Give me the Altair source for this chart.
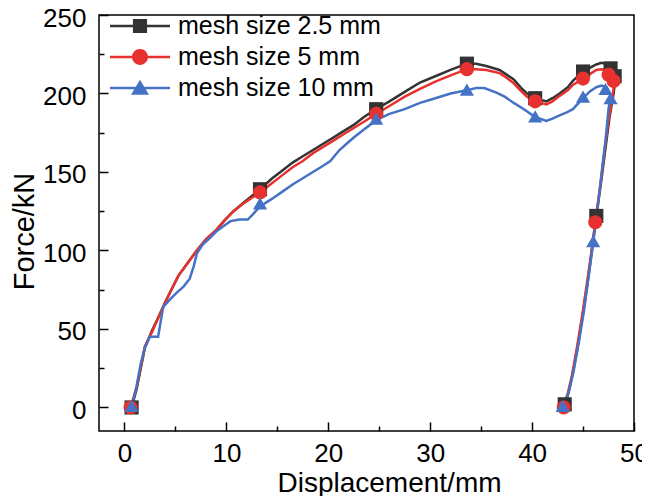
import altair as alt
import pandas as pd

series_names = ["mesh size 2.5 mm", "mesh size 5 mm", "mesh size 10 mm"]
colors = ["#333333", "#e8312f", "#4472c4"]
marker_shapes = ["square", "circle", "triangle-up"]

# mesh size 2.5 mm
x_25 = [0.7, 1.2, 1.6, 2.0, 2.7, 3.3, 4.0, 4.6, 5.3, 6.2, 7.1, 8.0, 9.0, 9.8, 10.7, 11.8, 13.3,
        14.5, 15.5, 16.5, 17.5, 18.5, 19.5, 20.5, 21.5, 22.5, 23.5, 24.7, 26.0, 27.5, 29.0, 30.5,
        32.0, 33.6, 34.5, 35.5, 36.8, 37.5, 38.2, 39.0, 39.5, 40.3, 41.4, 42.0, 42.7, 43.5, 44.0,
        45.0, 45.7, 46.3, 46.8, 47.2, 47.7, 48.2,
        48.0, 47.6, 47.2, 46.8, 46.3, 45.9, 45.5, 45.0, 44.5, 44.0, 43.6, 43.2]
y_25 = [0, 12, 25, 38, 49, 57, 67, 75, 84, 92, 100, 107, 113, 119, 125, 131, 139,
        146, 151, 156, 160, 164, 168, 172, 176, 180, 185, 190, 195, 201, 207, 211,
        215, 219, 219, 217.5, 215, 212, 209, 203, 200, 197, 195, 197, 200, 204, 208,
        214, 216.5, 218.5, 219.5, 219, 216, 211,
        200, 185, 165, 145, 122, 102, 82, 60, 40, 22, 10, 1]
mx_25 = [0.7, 13.3, 24.7, 33.6, 40.3, 45.0, 47.7, 48.1, 46.3, 43.2]
my_25 = [0, 139, 190, 219, 197, 214, 216, 211, 122, 2]

# mesh size 5 mm
x_5 = [0.6, 1.2, 1.6, 2.0, 2.7, 3.3, 4.0, 4.6, 5.3, 6.2, 7.1, 8.0, 9.0, 9.8, 10.7, 11.8, 13.3,
       14.5, 15.5, 16.5, 17.5, 18.5, 19.5, 20.5, 21.5, 22.5, 23.5, 24.7, 26.0, 27.5, 29.0, 30.5,
       32.0, 33.6, 34.5, 35.5, 36.8, 37.5, 38.2, 39.0, 39.5, 40.3, 41.4, 42.0, 42.7, 43.5, 44.0,
       45.0, 45.7, 46.3, 46.8, 47.2, 47.7, 48.1,
       47.9, 47.5, 47.1, 46.7, 46.2, 45.8, 45.4, 44.9, 44.4, 43.9, 43.5, 43.1]
y_5 = [0, 13, 26, 39, 48, 57, 67, 75, 84, 92, 100, 107, 113, 119, 125, 130.5, 137,
       143, 148, 153, 157, 162, 166, 170, 174, 178, 182, 187, 192, 198, 203, 207.5,
       211.5, 215.5, 215.5, 215, 213, 210, 206.5, 201, 198, 195, 193, 195, 198.5, 202, 205.5,
       209.5, 212.5, 215, 215.5, 215, 213, 209,
       198, 183, 163, 142, 118, 98, 80, 58, 38, 20, 9, 0]
mx_5 = [0.6, 13.3, 24.7, 33.6, 40.3, 45.0, 47.5, 48.0, 46.2, 43.1]
my_5 = [0, 137, 187, 215.5, 195, 209.5, 212, 208, 118, 0]

# mesh size 10 mm
x_10 = [0.7, 1.2, 1.6, 2.0, 2.5, 3.3, 3.8, 4.5, 5.1, 5.8, 6.4, 6.8, 7.1, 7.7, 8.4, 9.0, 9.7,
        10.4, 11.3, 12.1, 12.6, 13.3, 14.5, 15.5, 16.5, 17.5, 18.5, 19.5, 20.2, 21.1, 21.8, 22.5,
        23.5, 24.7, 26.0, 27.5, 29.0, 30.5, 32.0, 33.6, 34.5, 35.3, 36.5, 37.3, 38.2, 39.2, 40.3,
        41.4, 42.0, 42.7, 43.4, 44.0, 45.0, 45.7, 46.3, 46.8, 47.3, 47.7,
        47.5, 47.2, 46.8, 46.4, 46.0, 45.6, 45.1, 44.6, 44.1, 43.6, 43.0]
y_10 = [0, 14, 28, 38, 45, 45, 64, 69, 73, 77, 82, 90, 98, 104, 108, 112, 115.5,
        118.7, 119.7, 119.7, 123, 128, 133, 137.5, 142, 146, 150, 154, 157, 164, 168, 172,
        177, 183, 187, 190, 194, 197, 200, 202, 203.5, 203.5, 200.5, 198, 194, 190, 185,
        182.5, 184, 186, 188, 190, 197, 201.5, 204, 205, 204, 199,
        190, 170, 148, 125, 105, 86, 62, 42, 24, 10, 0]
mx_10 = [0.7, 13.3, 24.7, 33.6, 40.3, 45.0, 47.2, 47.7, 46.0, 43.0]
my_10 = [1, 130, 184, 202.5, 185.5, 198, 203, 197, 106, 1]

x_major = [0, 10, 20, 30, 40, 50]
x_minor = [5, 15, 25, 35, 45]
y_major = [0, 50, 100, 150, 200, 250]
y_minor = [25, 75, 125, 175, 225]

# legend symbols: line with marker on it (custom paths)
legend_paths = [
    "M-2,-0.09H2V0.09H-2Z M-0.47,-0.47H0.47V0.47H-0.47Z",
    "M-2,-0.09H2V0.09H-2Z M-0.53,0A0.53,0.53 0 1,1 0.53,0A0.53,0.53 0 1,1 -0.53,0Z",
    "M-2,-0.09H2V0.09H-2Z M0,-0.55L0.6,0.45L-0.6,0.45Z",
]


def frame(name, xs, ys):
    return pd.DataFrame({"series": name, "x": xs, "y": ys, "i": list(range(len(xs)))})


lines_df = pd.concat([frame(series_names[0], x_25, y_25),
                      frame(series_names[1], x_5, y_5),
                      frame(series_names[2], x_10, y_10)], ignore_index=True)
marks_df = pd.concat([frame(series_names[0], mx_25, my_25),
                      frame(series_names[1], mx_5, my_5),
                      frame(series_names[2], mx_10, my_10)], ignore_index=True)

FONT = "Liberation Sans"
xscale = alt.Scale(domain=[-2.5, 50], nice=False, zero=False)
yscale = alt.Scale(domain=[-15, 250], nice=False, zero=False)

x_axis = alt.Axis(values=x_major, orient="bottom", offset=-9, tickSize=9, domain=False, grid=False,
                  tickColor="black", tickWidth=1.5, labelFont=FONT, labelFontSize=26,
                  labelColor="black", labelPadding=9, labelFlush=False,
                  title="Displacement/mm", titleFont=FONT, titleFontSize=28,
                  titleFontWeight="normal", titleColor="black", titleX=290, titleY=69,
                  titleBaseline="alphabetic", titleAlign="center", titleAngle=0)
y_axis = alt.Axis(values=y_major, orient="left", offset=-9, tickSize=9, domain=False, grid=False,
                  tickColor="black", tickWidth=1.5, labelFont=FONT, labelFontSize=26,
                  labelColor="black", labelPadding=13, labelFlush=False, labelOffset=3,
                  title="Force/kN", titleFont=FONT, titleFontSize=29,
                  titleFontWeight="normal", titleColor="black", titleX=-75, titleY=216,
                  titleBaseline="alphabetic", titleAlign="center", titleAngle=270)
x_minor_axis = alt.Axis(values=x_minor, orient="bottom", offset=-5, tickSize=5, domain=False,
                        grid=False, labels=False, tickColor="black", tickWidth=1.5, title=None)
y_minor_axis = alt.Axis(values=y_minor, orient="left", offset=-5, tickSize=5, domain=False,
                        grid=False, labels=False, tickColor="black", tickWidth=1.5, title=None)

color_scale = alt.Scale(domain=series_names, range=colors)

lines_layer = alt.Chart(lines_df).mark_line(strokeWidth=2.5).encode(
    x=alt.X("x:Q", scale=xscale, axis=x_axis),
    y=alt.Y("y:Q", scale=yscale, axis=y_axis),
    color=alt.Color("series:N", scale=color_scale, legend=None),
    detail="series:N",
    order="i:Q",
)

points_layer = alt.Chart(marks_df).mark_point(filled=True, opacity=1, size=200).encode(
    x=alt.X("x:Q", scale=xscale, axis=None),
    y=alt.Y("y:Q", scale=yscale, axis=None),
    color=alt.Color("series:N", scale=color_scale, legend=None),
    shape=alt.Shape("series:N", scale=alt.Scale(domain=series_names, range=marker_shapes), legend=None),
)

legend_props = dict(orient="none", legendX=26, legendY=-4, title=None, symbolSize=900,
                    symbolStrokeWidth=0, symbolOpacity=1, labelFont=FONT, labelFontSize=25,
                    labelColor="black", labelOffset=23, rowPadding=3, padding=0,
                    labelLimit=400)

legend_layer = alt.Chart(marks_df).mark_point(filled=True, opacity=0).encode(
    x=alt.X("x:Q", scale=xscale, axis=x_minor_axis),
    y=alt.Y("y:Q", scale=yscale, axis=y_minor_axis),
    color=alt.Color("series:N", scale=color_scale, legend=alt.Legend(**legend_props)),
    shape=alt.Shape("series:N", scale=alt.Scale(domain=series_names, range=legend_paths),
                    legend=alt.Legend(**legend_props)),
)

chart = alt.layer(lines_layer, points_layer, legend_layer).resolve_scale(
    color="independent", shape="independent"
).resolve_axis(
    x="independent", y="independent"
).properties(
    width=535, height=416,
    padding={"left": 91, "top": 7, "right": 8, "bottom": 65},
    autosize=alt.AutoSizeParams(type="none"),
    background="white",
).configure_view(stroke="black", strokeWidth=1.5)

chart.save("out.html", embed_options={"renderer": "svg", "actions": False})
